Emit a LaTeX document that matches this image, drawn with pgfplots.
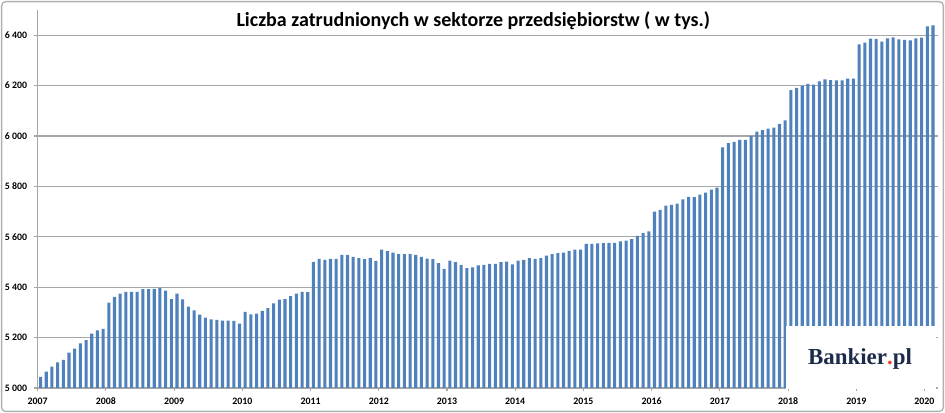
\documentclass[border=0pt]{standalone}
\usepackage{pgfplots}
\pgfplotsset{compat=1.18}
\usepackage{pgfplotstable}
\usepackage{fontspec}
\setmainfont{Carlito}
\newfontfamily\logofont{Liberation Serif}
\definecolor{barblue}{HTML}{4F81BD}
\definecolor{gridgray}{HTML}{A6A6A6}
\definecolor{framegray}{HTML}{B0B0B0}
\definecolor{navy}{HTML}{1C2B4B}
\definecolor{dotred}{HTML}{E2492B}
\pgfplotstableread{
v
5044
5065
5085
5102
5112
5140
5156
5177
5190
5216
5229
5235
5339
5362
5374
5381
5381
5381
5392
5392
5393
5397
5386
5353
5374
5352
5323
5308
5291
5279
5272
5270
5267
5267
5266
5255
5302
5292
5295
5306
5317
5336
5351
5353
5365
5374
5381
5380
5500
5512
5508
5512
5512
5528
5528
5520
5515
5511
5516
5504
5549
5543
5537
5531
5531
5531
5528
5520
5513
5511
5496
5473
5505
5499
5489
5476
5479
5487
5489
5493
5493
5499
5501
5491
5505
5508
5515
5512
5515
5525
5531
5535
5537
5544
5549
5549
5572
5572
5574
5575
5576
5576
5582
5585
5591
5604
5615
5622
5700
5707
5724
5727
5732
5748
5758
5757
5767
5775
5787
5795
5955
5972
5977
5985
5985
6000
6017
6023
6029
6033
6048
6062
6182
6191
6199
6207
6204
6217
6225
6222
6221
6221
6228
6228
6364
6371
6386
6385
6374
6387
6391
6383
6381
6379
6387
6390
6435
6439
}\datatable
\begin{document}
\begin{tikzpicture}
\useasboundingbox (0,0) rectangle (708.75pt,309.75pt);
\fill[white] (0,0) rectangle (708.75pt,309.75pt);
\begin{axis}[
  at={(28.3pt,18.75pt)}, anchor=south west,
  scale only axis,
  width=674.85pt, height=283.5pt,
  xmin=-0.5, xmax=157.8,
  ymin=5000, ymax=6500,
  axis x line*=bottom, axis y line*=left,
  axis line style={gridgray, line width=0.8pt, -},
  ytick={5000,5200,5400,5600,5800,6000,6200,6400},
  yticklabels={5 000,5 200,5 400,5 600,5 800,6 000,6 200,6 400},
  xtick={-0.5,11.5,23.5,35.5,47.5,59.5,71.5,83.5,95.5,107.5,119.5,131.5,143.5,155.5},
  xticklabels={2007,2008,2009,2010,2011,2012,2013,2014,2015,2016,2017,2018,2019,2020},
  ymajorgrids,
  grid style={gridgray, line width=0.8pt},
  tick align=outside,
  major tick length=2.5pt,
  tick style={gridgray, line width=0.8pt},
  /pgf/number format/assume math mode=true,
  tick label style={font=\bfseries\fontsize{7.4}{8}\selectfont, text=black},
  yticklabel style={xshift=-2pt},
  xticklabel style={yshift=-1.3pt},
  clip=false,
]
\addplot[ybar, bar width=2.3pt, bar shift=0pt, fill=barblue, draw=none]
  table[x expr=\coordindex, y=v] {\datatable};
\end{axis}
\fill[white] (589.5pt,18pt) rectangle (702pt,65.25pt);
\node[anchor=base, inner sep=0pt, text=navy] at (645pt,36pt)
  {\logofont\bfseries\fontsize{17.2}{20}\selectfont Bankier{\color{dotred}.}pl};
\node[anchor=base, inner sep=0pt] at (355pt,289.5pt)
  {\bfseries\fontsize{15}{18}\selectfont Liczba zatrudnionych w sektorze przedsiębiorstw ( w tys.)};
\draw[framegray, line width=1pt, rounded corners=3pt] (1.2pt,1.2pt) rectangle (707.5pt,308.5pt);
\end{tikzpicture}
\end{document}
